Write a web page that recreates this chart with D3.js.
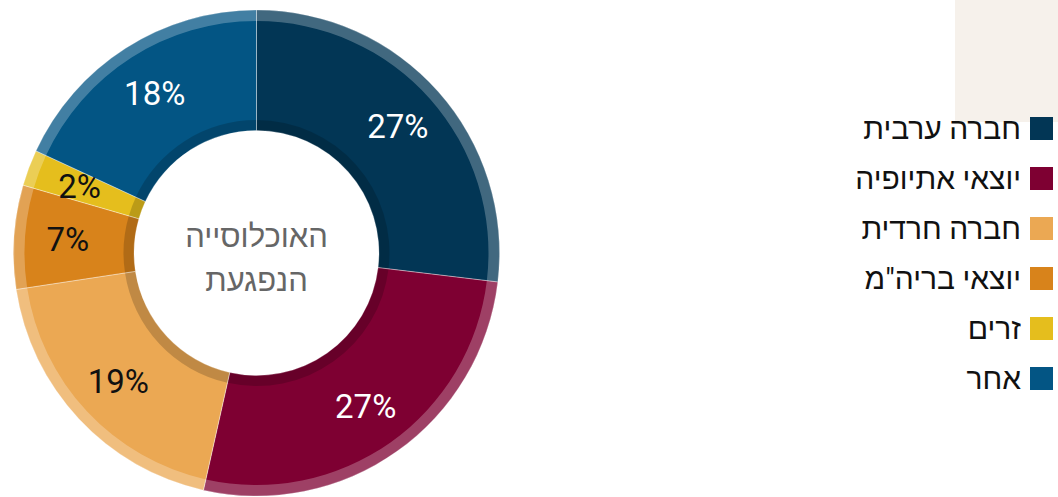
<!DOCTYPE html>
<html lang="he">
<head>
<meta charset="utf-8">
<script src="https://cdn.jsdelivr.net/npm/d3@7"></script>
<style>
  body { margin: 0; background: #fff; }
  svg { display: block; font-family: Roboto, "Liberation Sans", Arial, sans-serif; }
</style>
</head>
<body>
<div id="idChart"></div>
<script>
// groups, values (percent of population) and colours
var asGroups = ["חברה ערבית", "יוצאי אתיופיה", "חברה חרדית", "יוצאי בריה\"מ", "זרים", "אחר"];
var afValues = [26.9, 26.6, 19.1, 6.9, 2.4, 18.1];
var asColors = ["#023655", "#7e0032", "#eba853", "#d8831b", "#e5be1d", "#035584"];
var asLabelColors = ["#fff", "#fff", "#111", "#111", "#111", "#fff"];
var asCenterText = ["האוכלוסייה", "הנפגעת"];

var iWidth = 1058, iHeight = 497;
var cx = 256.5, cy = 253;
var rOuter = 243, rInner = 122.5;

var svg = d3.select("#idChart").append("svg")
    .attr("width", iWidth).attr("height", iHeight);

// beige box behind legend
svg.append("rect")
    .attr("x", 955).attr("y", 0)
    .attr("width", 103).attr("height", 122)
    .attr("fill", "#f6f1eb");

var rows = asGroups.map(function(g, i) {
    return {name: g, value: afValues[i], color: asColors[i], label: asLabelColors[i]};
});

var pie = d3.pie().sort(null).value(function(d) { return d.value; });
var arcs = pie(rows);

var arcMain = d3.arc().innerRadius(rInner).outerRadius(rOuter);
var arcOuterRing = d3.arc().innerRadius(rOuter - 11).outerRadius(rOuter);
var arcInnerRing = d3.arc().innerRadius(rInner).outerRadius(rInner + 10.5);
var arcLabel = d3.arc().innerRadius(189).outerRadius(189);

var g = svg.append("g").attr("transform", "translate(" + cx + "," + cy + ")");

g.selectAll("path.slice")
    .data(arcs)
    .enter().append("path")
    .attr("class", "slice")
    .attr("d", arcMain)
    .attr("fill", function(d) { return d.data.color; });

// lighter outer rim
g.selectAll("path.rim")
    .data(arcs)
    .enter().append("path")
    .attr("class", "rim")
    .attr("d", arcOuterRing)
    .attr("fill", "#fff")
    .attr("fill-opacity", 0.25);

// darker inner rim
g.selectAll("path.inrim")
    .data(arcs)
    .enter().append("path")
    .attr("class", "inrim")
    .attr("d", arcInnerRing)
    .attr("fill", "#000")
    .attr("fill-opacity", 0.18);

// thin separators
g.selectAll("path.sep")
    .data(arcs)
    .enter().append("path")
    .attr("class", "sep")
    .attr("d", arcMain)
    .attr("fill", "none")
    .attr("stroke", "#fff")
    .attr("stroke-opacity", 0.35)
    .attr("stroke-width", 0.8);

g.selectAll("text.pct")
    .data(arcs)
    .enter().append("text")
    .attr("class", "pct")
    .attr("transform", function(d) { return "translate(" + arcLabel.centroid(d) + ")"; })
    .attr("text-anchor", "middle")
    .attr("dy", "0.33em")
    .attr("font-size", 33)
    .attr("font-weight", 400)
    .attr("fill", function(d) { return d.data.label; })
    .text(function(d) { return Math.round(d.data.value) + "%"; });

g.selectAll("text.center")
    .data(asCenterText)
    .enter().append("text")
    .attr("class", "center")
    .attr("x", 0)
    .attr("y", function(d, i) { return -6 + i * 44; })
    .attr("text-anchor", "middle")
    .attr("direction", "rtl")
    .attr("font-size", 31)
    .attr("fill", "#666")
    .text(function(d) { return d; });

// legend
var legend = svg.append("g").attr("transform", "translate(1030,117)");
var item = legend.selectAll("g.item")
    .data(rows)
    .enter().append("g")
    .attr("class", "item")
    .attr("transform", function(d, i) { return "translate(0," + (i * 50) + ")"; });

item.append("rect")
    .attr("width", 23).attr("height", 23)
    .attr("fill", function(d) { return d.color; });

item.append("text")
    .attr("x", -9)
    .attr("y", 22)
    .attr("text-anchor", "start")
    .attr("direction", "rtl")
    .attr("font-size", 30)
    .attr("fill", "#111")
    .text(function(d) { return d.name; });
</script>
</body>
</html>
